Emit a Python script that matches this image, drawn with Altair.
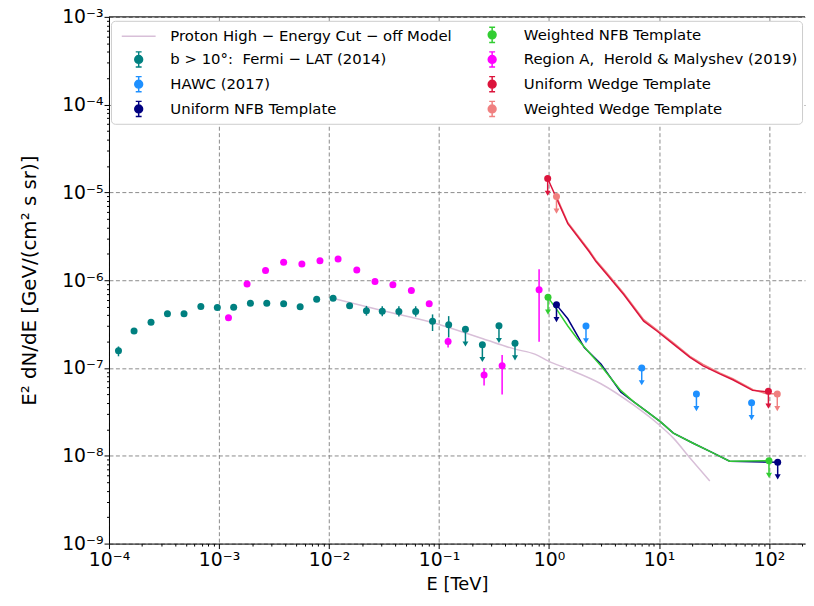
import altair as alt
import pandas as pd

# ---------------- series names ----------------
S_PROTON = "Proton High − Energy Cut − off Model"
S_FERMI = "b > 10°:\u00a0 Fermi − LAT (2014)"
S_HAWC = "HAWC (2017)"
S_UNFB = "Uniform NFB Template"
S_WNFB = "Weighted NFB Template"
S_HM = "Region A,\u00a0 Herold & Malyshev (2019)"
S_UW = "Uniform Wedge Template"
S_WW = "Weighted Wedge Template"

# legend entries (filled column by column, 2 columns)
legend_order = [S_PROTON, S_FERMI, S_HAWC, S_UNFB, S_WNFB, S_HM, S_UW, S_WW]
legend_colors = ["#d8bfd8", "#008080", "#1e90ff", "#000080",
                 "#32cd32", "#ff00ff", "#dc143c", "#f08080"]

# ---------------- data (E in TeV, E^2 dN/dE in GeV cm^-2 s^-1 sr^-1) ----------------
fermi_E = [1.22e-4, 1.69e-4, 2.41e-4, 3.40e-4, 4.81e-4, 6.84e-4, 9.66e-4, 1.36e-3,
           1.93e-3, 2.72e-3, 3.87e-3, 5.47e-3, 7.73e-3, 1.09e-2, 1.54e-2, 2.19e-2,
           3.05e-2, 4.32e-2, 6.14e-2, 8.74e-2, 0.1225]
fermi_F = [1.57e-7, 2.64e-7, 3.33e-7, 4.15e-7, 4.15e-7, 5.01e-7, 4.89e-7, 4.92e-7,
           5.46e-7, 5.46e-7, 5.38e-7, 4.98e-7, 6.06e-7, 6.22e-7, 5.11e-7, 4.49e-7,
           4.44e-7, 4.41e-7, 4.41e-7, 3.40e-7, 3.12e-7]
fermi_hi = [1.76e-7, 2.80e-7, 3.50e-7, 4.35e-7, 4.35e-7, 5.25e-7, 5.10e-7, 5.15e-7,
            5.70e-7, 5.70e-7, 5.60e-7, 5.20e-7, 6.30e-7, 6.50e-7, 5.40e-7, 5.10e-7,
            5.05e-7, 5.05e-7, 5.05e-7, 4.08e-7, 3.90e-7]
fermi_lo = [1.36e-7, 2.48e-7, 3.15e-7, 3.95e-7, 3.95e-7, 4.78e-7, 4.68e-7, 4.70e-7,
            5.22e-7, 5.22e-7, 5.15e-7, 4.76e-7, 5.82e-7, 5.95e-7, 4.85e-7, 3.95e-7,
            3.90e-7, 3.85e-7, 3.85e-7, 2.64e-7, 2.23e-7]
fermi_ul_E = [0.174, 0.248, 0.351, 0.491]
fermi_ul_F = [2.76e-7, 1.84e-7, 3.03e-7, 1.92e-7]

hm_E = [1.22e-3, 1.80e-3, 2.65e-3, 3.87e-3, 5.67e-3, 8.28e-3, 1.21e-2, 1.79e-2,
        2.62e-2, 3.81e-2, 5.61e-2, 8.15e-2, 0.121, 0.257, 0.375, 0.813]
hm_F = [3.74e-7, 9.03e-7, 1.29e-6, 1.60e-6, 1.53e-6, 1.67e-6, 1.74e-6, 1.31e-6,
        9.66e-7, 8.87e-7, 7.65e-7, 5.38e-7, 2.00e-7, 8.30e-8, 1.06e-7, 7.80e-7]
hm_hi = [3.90e-7, 9.40e-7, 1.34e-6, 1.66e-6, 1.59e-6, 1.73e-6, 1.81e-6, 1.36e-6,
         1.00e-6, 9.20e-7, 7.95e-7, 5.60e-7, 2.22e-7, 9.95e-8, 1.41e-7, 1.33e-6]
hm_lo = [3.58e-7, 8.66e-7, 1.24e-6, 1.54e-6, 1.47e-6, 1.61e-6, 1.67e-6, 1.26e-6,
         9.30e-7, 8.54e-7, 7.35e-7, 5.17e-7, 1.71e-7, 6.34e-8, 4.98e-8, 1.99e-7]

hawc_E = [2.17, 6.97, 21.9, 69.5]
hawc_F = [3.01e-7, 1.00e-7, 5.07e-8, 4.01e-8]

proton_E = [0.01091, 0.03162, 0.09354, 0.2512, 0.4909, 0.7430, 1.0, 1.483, 2.965,
            5.902, 10.07, 13.52, 19.14, 23.55, 28.97]
proton_F = [6.22e-7, 4.47e-7, 3.22e-7, 2.15e-7, 1.64e-7, 1.44e-7, 1.19e-7, 9.77e-8,
            6.62e-8, 3.77e-8, 2.24e-8, 1.59e-8, 9.44e-9, 6.97e-9, 5.15e-9]

uw_E = [0.973, 1.483, 2.323, 2.673, 3.396, 4.797, 7.261, 9.572, 13.52, 19.14, 25.18,
        35.65, 46.88, 70.96, 93.54, 98.8]
uw_F = [1.44e-5, 4.41e-6, 2.11e-6, 1.63e-6, 1.15e-6, 6.84e-7, 3.42e-7, 2.64e-7,
        1.87e-7, 1.32e-7, 1.06e-7, 8.57e-8, 7.35e-8, 5.56e-8, 5.37e-8, 5.42e-8]
ww_E = [1.17, 1.483, 2.323, 2.673, 3.396, 4.797, 7.261, 9.572, 13.52, 19.14, 25.18,
        35.65, 46.88, 70.96, 93.54, 119.0]
ww_F = [9.0e-6, 4.55e-6, 2.18e-6, 1.69e-6, 1.19e-6, 7.05e-7, 3.55e-7, 2.72e-7,
        1.93e-7, 1.36e-7, 1.10e-7, 8.80e-8, 7.55e-8, 5.70e-8, 5.12e-8, 5.06e-8]

wnfb_E = [0.98, 1.205, 1.483, 1.824, 2.244, 2.965, 4.487, 5.902, 7.780, 10.28, 13.52,
          20.46, 30.97, 43.85, 100.0]
wnfb_F = [6.38e-7, 4.44e-7, 3.01e-7, 2.13e-7, 1.57e-7, 1.06e-7, 5.56e-8, 4.11e-8,
          3.18e-8, 2.45e-8, 1.81e-8, 1.39e-8, 1.08e-8, 8.67e-9, 8.8e-9]
unfb_E = [1.17, 1.483, 2.094, 2.965, 4.487, 5.902, 7.780, 10.28, 13.52, 20.46, 30.97,
          43.85, 120.0]
unfb_F = [5.24e-7, 3.64e-7, 1.71e-7, 1.11e-7, 5.33e-8, 4.11e-8, 3.18e-8, 2.45e-8,
          1.81e-8, 1.39e-8, 1.08e-8, 8.67e-9, 8.45e-9]

# ---------------- axes ----------------
x_major = [1e-4, 1e-3, 1e-2, 1e-1, 1.0, 10.0, 100.0]
x_labels = ["10⁻⁴", "10⁻³", "10⁻²", "10⁻¹", "10⁰", "10¹", "10²"]
y_major = [1e-9, 1e-8, 1e-7, 1e-6, 1e-5, 1e-4, 1e-3]
y_labels = ["10⁻⁹", "10⁻⁸", "10⁻⁷", "10⁻⁶", "10⁻⁵", "10⁻⁴", "10⁻³"]
X_DOMAIN = [1e-4, 212.6]
Y_DOMAIN = [1e-9, 1e-3]
UL_FACTOR = 0.68
minor_mult = [2, 3, 4, 5, 6, 7, 8, 9]


def with_minors(major, lo, hi):
    vals = list(major)
    for m in major:
        for k in minor_mult:
            v = m * k
            if lo <= v <= hi:
                vals.append(v)
    return sorted(vals)


def label_expr(vals, labs):
    parts = [f"datum.value == {v!r} ? '{l}'" for v, l in zip(vals, labs)]
    return " : ".join(parts) + " : ''"


MAJOR_TEST = "abs(log(datum.value)/LN10 - round(log(datum.value)/LN10)) < 0.001"
common_axis = dict(
    labelFont="DejaVu Sans", labelFontSize=19, labelColor="black",
    titleFont="DejaVu Sans", titleFontWeight="normal", titleColor="black",
    domainColor="black", tickColor="black", labelOverlap=False, labelFlush=False,
    grid=True, gridColor="#8a8a8a", gridDash=[4, 2.5], gridWidth=1,
    gridOpacity={"condition": {"test": MAJOR_TEST, "value": 1}, "value": 0},
    tickSize={"condition": {"test": MAJOR_TEST, "value": 5}, "value": 2.5},
)
x_axis = alt.Axis(values=with_minors(x_major, *X_DOMAIN),
                  labelExpr=label_expr(x_major, x_labels),
                  title="E [TeV]", titleFontSize=18, titlePadding=6, labelPadding=2,
                  **common_axis)
y_axis = alt.Axis(values=with_minors(y_major, *Y_DOMAIN),
                  labelExpr=label_expr(y_major, y_labels),
                  title="E² dN/dE  [GeV/(cm² s sr)]", titleFontSize=20,
                  titlePadding=22, labelPadding=1, **common_axis)

x_scale = alt.Scale(type="log", domain=X_DOMAIN, nice=False)
y_scale = alt.Scale(type="log", domain=Y_DOMAIN, nice=False)
X = alt.X("E:Q", scale=x_scale, axis=x_axis)
Y = alt.Y("F:Q", scale=y_scale, axis=y_axis)
# marks' colour scale (listed in another order than the legend's so that the two are not merged)
color_scale = alt.Scale(domain=legend_order[::-1], range=legend_colors[::-1])
C = alt.Color("series:N", scale=color_scale, legend=None)

# ---------------- tables ----------------
pts_rows = []
for e, f, lo, hi in zip(fermi_E, fermi_F, fermi_lo, fermi_hi):
    pts_rows.append(dict(series=S_FERMI, E=e, F=f, lo=lo, hi=hi))
for e, f, lo, hi in zip(hm_E, hm_F, hm_lo, hm_hi):
    pts_rows.append(dict(series=S_HM, E=e, F=f, lo=lo, hi=hi))
pts_df = pd.DataFrame(pts_rows)

ul_rows = []
for s, es, fs in [(S_FERMI, fermi_ul_E, fermi_ul_F), (S_HAWC, hawc_E, hawc_F)]:
    for e, f in zip(es, fs):
        ul_rows.append(dict(series=s, E=e, F=f))
for s, es, fs in [(S_WW, ww_E, ww_F), (S_UW, uw_E, uw_F),
                  (S_WNFB, wnfb_E, wnfb_F), (S_UNFB, unfb_E, unfb_F)]:
    ul_rows.append(dict(series=s, E=es[0], F=fs[0]))
    ul_rows.append(dict(series=s, E=es[-1], F=fs[-1]))
ul_df = pd.DataFrame(ul_rows)

line_rows = []
for s, es, fs in [(S_WW, ww_E, ww_F), (S_UW, uw_E, uw_F),
                  (S_UNFB, unfb_E, unfb_F), (S_WNFB, wnfb_E, wnfb_F)]:
    for i, (e, f) in enumerate(zip(es, fs)):
        line_rows.append(dict(series=s, E=e, F=f, idx=i))
line_df = pd.DataFrame(line_rows)

proton_df = pd.DataFrame(dict(series=S_PROTON, E=proton_E, F=proton_F))
# legend-only rows: no coordinates, so no mark is drawn; the legend comes from the scale domain
legend_df = pd.DataFrame(dict(series=legend_order, E=[None] * len(legend_order),
                              F=[None] * len(legend_order)))

# ---------------- layers ----------------
proton = alt.Chart(proton_df).mark_line(strokeWidth=1.5, interpolate="monotone").encode(
    x=X, y=Y, color=C)

templates = alt.Chart(line_df).mark_line(strokeWidth=1.5).encode(
    x=X, y=Y, color=C, detail="series:N", order="idx:Q")

errbars = alt.Chart(pts_df).mark_rule(strokeWidth=1.5).encode(
    x=X, y=alt.Y("lo:Q", scale=y_scale, axis=y_axis), y2="hi:Q", color=C)

ul_base = alt.Chart(ul_df).transform_calculate(Fend=f"datum.F * {UL_FACTOR}")
ul_rules = ul_base.mark_rule(strokeWidth=1.5).encode(
    x=X, y=Y, y2="Fend:Q", color=C)
ul_heads = ul_base.mark_point(shape="triangle-down", filled=True, size=36, opacity=1).encode(
    x=X, y=alt.Y("Fend:Q", scale=y_scale, axis=y_axis), color=C)

markers_df = pd.concat([pts_df[["series", "E", "F"]], ul_df], ignore_index=True)
markers = alt.Chart(markers_df).mark_circle(size=50, opacity=1).encode(x=X, y=Y, color=C)

PATH_LINE = "M-1.9,0L1.9,0"
PATH_EB = ("M-0.44,0A0.44,0.44 0 1,1 0.44,0A0.44,0.44 0 1,1 -0.44,0Z "
           "M0,-0.85L0,0.85M-0.33,-0.85L0.33,-0.85M-0.33,0.85L0.33,0.85")
shape_range = [PATH_LINE] + [PATH_EB] * (len(legend_order) - 1)

leg = alt.Legend(
    title=None, orient="none", legendX=2, legendY=4, columns=2,
    labelFont="DejaVu Sans", labelFontSize=15, labelColor="black", labelLimit=500,
    symbolSize=324, symbolStrokeWidth=1.5, symbolOpacity=1, symbolOffset=14,
    labelOffset=22, rowPadding=3, columnPadding=16, padding=4,
    fillColor="white", strokeColor="#cccccc", cornerRadius=4,
)
legend_layer = alt.Chart(legend_df).mark_point(filled=True, opacity=1).encode(
    x=X, y=Y,
    fill=alt.Fill("series:N", scale=alt.Scale(domain=legend_order, range=legend_colors), legend=leg),
    stroke=alt.Stroke("series:N", scale=alt.Scale(domain=legend_order, range=legend_colors), legend=leg),
    shape=alt.Shape("series:N", scale=alt.Scale(domain=legend_order, range=shape_range), legend=leg),
)

top_spine = alt.Chart(pd.DataFrame({"a": [0]})).mark_rule(color="black", strokeWidth=1).encode(
    y=alt.datum(Y_DOMAIN[1]))

chart = alt.layer(
    proton, templates, errbars, ul_rules, ul_heads, markers, legend_layer, top_spine
).properties(
    width=703, height=532,
    autosize=alt.AutoSizeParams(type="none"),
    padding={"left": 102, "top": 6, "right": 1, "bottom": 52},
).configure(font="DejaVu Sans").configure_view(stroke=None)

chart.save("out.html", embed_options={"renderer": "svg", "actions": False})
